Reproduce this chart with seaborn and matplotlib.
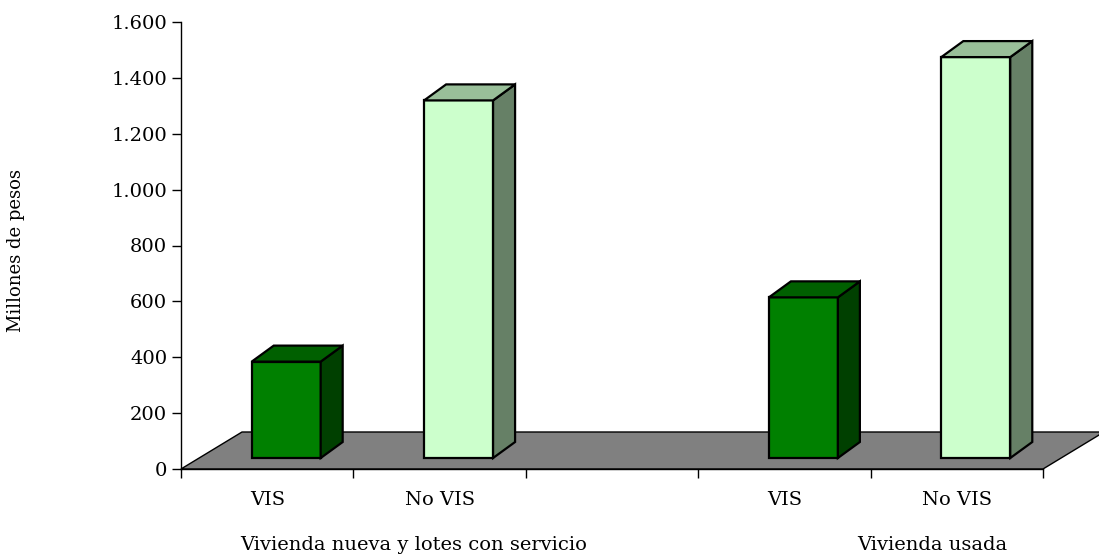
import numpy as np
import pandas as pd
import matplotlib
matplotlib.use("Agg")
import matplotlib.pyplot as plt
import matplotlib.colors as mcolors
from matplotlib.patches import Polygon
import seaborn as sns

# ---- data ----
claves = ["n_vis", "n_novis", "hueco", "u_vis", "u_novis"]
etiquetas = ["VIS", "No VIS", "", "VIS", "No VIS"]
claves_barras = ["n_vis", "n_novis", "u_vis", "u_novis"]
tipos = ["VIS", "No VIS", "VIS", "No VIS"]
valores = [345, 1280, 575, 1435]
grupos = ["Vivienda nueva y lotes con servicio", "Vivienda usada"]
grupo_x = [0.85, 3.856]
yticks = [0, 200, 400, 600, 800, 1000, 1200, 1400, 1600]
ytick_labels = ["0", "200", "400", "600", "800", "1.000", "1.200", "1.400", "1.600"]
colores = {"VIS": "#008000", "No VIS": "#CCFFCC"}

df = pd.DataFrame({"clave": claves_barras, "tipo": tipos, "valor": valores})

sns.set_theme(style="white")
plt.rcParams["font.family"] = ["DejaVu Serif"]

W, H = 1099, 557
fig = plt.figure(figsize=(W / 100, H / 100), dpi=100)
ax = fig.add_axes([181 / W, (H - 469) / H, 862 / W, 447 / H])

sns.barplot(data=df, x="clave", y="valor", hue="tipo", order=claves,
            hue_order=["VIS", "No VIS"], palette=colores, dodge=False,
            saturation=1, width=0.4, edgecolor="black", linewidth=1.6,
            legend=False, ax=ax, zorder=3)

ax.set_xlim(-0.5, 4.5)
ax.set_ylim(0, 1600)

ppx = ax.bbox.width / 5.0
ppy = ax.bbox.height / 1600.0

# floor
fdx, fdy = 61 / ppx, 37 / ppy
floor = Polygon([(-0.5, 0), (4.5, 0), (4.5 + fdx, fdy), (-0.5 + fdx, fdy)],
                closed=True, facecolor="#808080", edgecolor="black",
                linewidth=1.0, clip_on=False, zorder=1)
ax.add_patch(floor)

# 3D bars
sx, sy = 19 / ppx, 11 / ppy
dx, dy = 22 / ppx, 16 / ppy
for p in list(ax.patches):
    if p is floor:
        continue
    h = p.get_height()
    if not np.isfinite(h) or h <= 0:
        continue
    x0 = p.get_x() + sx
    x1 = x0 + p.get_width()
    y0 = sy
    y1 = sy + h
    p.set_x(x0)
    p.set_y(y0)
    p.set_clip_on(False)
    base = np.array(mcolors.to_rgb(p.get_facecolor()))
    top_c = base * 0.75
    side_c = base * 0.5
    side = Polygon([(x1, y0), (x1 + dx, y0 + dy), (x1 + dx, y1 + dy), (x1, y1)],
                   closed=True, facecolor=side_c, edgecolor="black",
                   linewidth=1.6, clip_on=False, zorder=3)
    top = Polygon([(x0, y1), (x1, y1), (x1 + dx, y1 + dy), (x0 + dx, y1 + dy)],
                  closed=True, facecolor=top_c, edgecolor="black",
                  linewidth=1.6, clip_on=False, zorder=3)
    ax.add_patch(side)
    ax.add_patch(top)

# axes styling
for s in ["top", "right"]:
    ax.spines[s].set_visible(False)
for s in ["left", "bottom"]:
    ax.spines[s].set_color("black")
    ax.spines[s].set_linewidth(1.0)
    ax.spines[s].set_zorder(2)

ax.set_yticks(yticks)
ax.set_yticklabels(ytick_labels)
ax.tick_params(axis="y", which="major", direction="out", length=6.5, width=1,
               color="black", pad=3.5, labelsize=14, labelcolor="black", left=True)

ax.set_xticks(range(len(claves)))
ax.set_xticklabels(etiquetas)
ax.set_xticks(np.arange(-0.5, 5.0, 1.0), minor=True)
ax.tick_params(axis="x", which="major", length=0, pad=16, labelsize=14,
               labelcolor="black")
ax.tick_params(axis="x", which="minor", direction="out", length=6.5, width=1,
               color="black", bottom=True)

ax.set_xlabel("")
ax.set_ylabel("")

for g, gx in zip(grupos, grupo_x):
    ax.text(gx, -76 / ppy, g, ha="center", va="center", fontsize=14,
            color="black", clip_on=False)

fig.text(16 / W, 1 - 250 / H, "Millones de pesos", rotation=90, ha="center",
         va="center", fontsize=13, color="black")

fig.savefig("out.png", dpi=100)
